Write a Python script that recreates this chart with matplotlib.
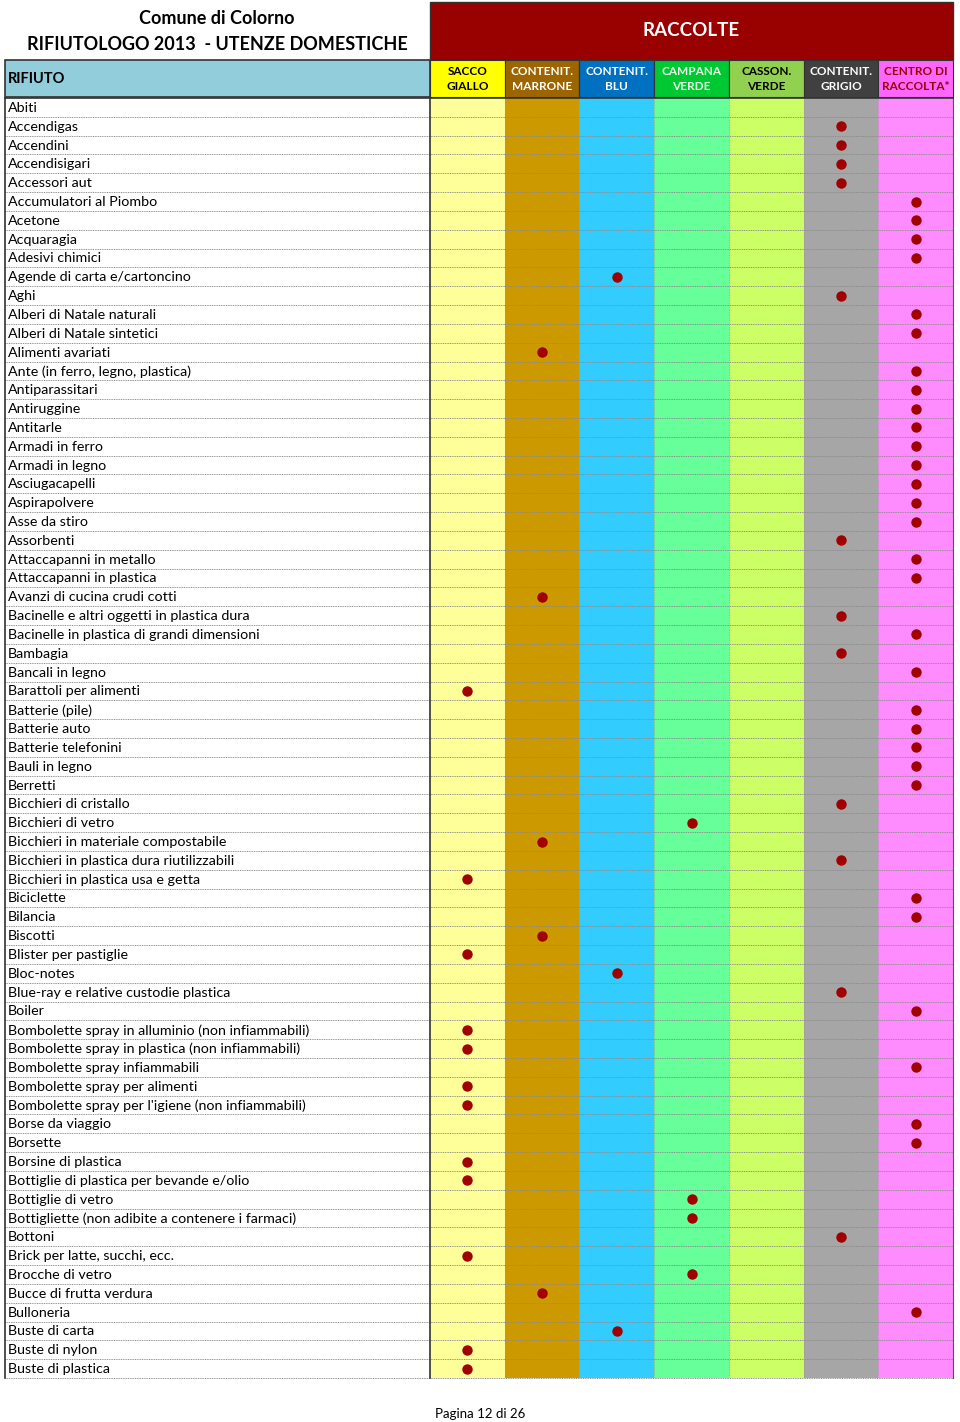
import matplotlib.pyplot as plt
from matplotlib.patches import Rectangle

plt.rcParams['font.family'] = ['Lato', 'DejaVu Sans']

# Column headers (collection bins)
bins = ["SACCO\nGIALLO", "CONTENIT.\nMARRONE", "CONTENIT.\nBLU", "CAMPANA\nVERDE",
        "CASSON.\nVERDE", "CONTENIT.\nGRIGIO", "CENTRO DI\nRACCOLTA*"]
head_colors = ["#FFFF00", "#9C6500", "#0070C0", "#00C832", "#92D050", "#404040", "#FF66FF"]
head_text = ["black", "white", "white", "#E8FFE8", "black", "white", "#990000"]
body_colors = ["#FFFF99", "#CC9900", "#33CCFF", "#66FF99", "#CCFF66", "#A6A6A6", "#FF8CFF"]

# Waste items and the bin each goes in (index into bins, None = no mark)
rifiuti = [
    "Abiti", "Accendigas", "Accendini", "Accendisigari", "Accessori aut",
    "Accumulatori al Piombo", "Acetone", "Acquaragia", "Adesivi chimici",
    "Agende di carta e/cartoncino", "Aghi", "Alberi di Natale naturali",
    "Alberi di Natale sintetici", "Alimenti avariati", "Ante (in ferro, legno, plastica)",
    "Antiparassitari", "Antiruggine", "Antitarle", "Armadi in ferro", "Armadi in legno",
    "Asciugacapelli", "Aspirapolvere", "Asse da stiro", "Assorbenti",
    "Attaccapanni in metallo", "Attaccapanni in plastica", "Avanzi di cucina crudi cotti",
    "Bacinelle e altri oggetti in plastica dura", "Bacinelle in plastica di grandi dimensioni",
    "Bambagia", "Bancali in legno", "Barattoli per alimenti", "Batterie (pile)",
    "Batterie auto", "Batterie telefonini", "Bauli in legno", "Berretti",
    "Bicchieri di cristallo", "Bicchieri di vetro", "Bicchieri in materiale compostabile",
    "Bicchieri in plastica dura riutilizzabili", "Bicchieri in plastica usa e getta",
    "Biciclette", "Bilancia", "Biscotti", "Blister per pastiglie", "Bloc-notes",
    "Blue-ray e relative custodie plastica", "Boiler",
    "Bombolette spray in alluminio (non infiammabili)",
    "Bombolette spray in plastica (non infiammabili)", "Bombolette spray infiammabili",
    "Bombolette spray per alimenti", "Bombolette spray per l'igiene (non infiammabili)",
    "Borse da viaggio", "Borsette", "Borsine di plastica",
    "Bottiglie di plastica per bevande e/olio", "Bottiglie di vetro",
    "Bottigliette (non adibite a contenere i farmaci)", "Bottoni",
    "Brick per latte, succhi, ecc.", "Brocche di vetro", "Bucce di frutta verdura",
    "Bulloneria", "Buste di carta", "Buste di nylon", "Buste di plastica",
]
raccolta = [
    None, 5, 5, 5, 5,
    6, 6, 6, 6,
    2, 5, 6,
    6, 1, 6,
    6, 6, 6, 6, 6,
    6, 6, 6, 5,
    6, 6, 1,
    5, 6,
    5, 6, 0, 6,
    6, 6, 6, 6,
    5, 3, 1,
    5, 0,
    6, 6, 1, 0, 2,
    5, 6,
    0,
    0, 6,
    0, 0,
    6, 6, 0,
    0, 3,
    3, 5,
    0, 3, 1,
    6, 2, 0, 0,
]

W, H = 960, 1422
fig = plt.figure(figsize=(W / 100, H / 100), dpi=100)
ax = fig.add_axes([0, 0, 1, 1])
ax.set_xlim(0, W)
ax.set_ylim(H, 0)
ax.axis('off')

x0, xs, x1 = 5, 430, 953
col_w = (x1 - xs) / len(bins)
body_top, body_bot = 98, 1378
row_h = (body_bot - body_top) / len(rifiuti)

# title
ax.text(217, 18, "Comune di Colorno", ha='center', va='center', fontsize=13, fontweight='bold')
ax.text(217, 45, "RIFIUTOLOGO 2013  - UTENZE DOMESTICHE", ha='center', va='center',
        fontsize=13, fontweight='bold')

# RACCOLTE band
ax.add_patch(Rectangle((xs, 2), x1 - xs, 58, facecolor="#990000", edgecolor="#333333", lw=1))
ax.text((xs + x1) / 2, 31, "RACCOLTE", ha='center', va='center', color='white',
        fontsize=13.5, fontweight='bold')

# RIFIUTO header
ax.add_patch(Rectangle((x0, 60), xs - x0, 37, facecolor="#92CDDC", edgecolor="#333333", lw=1.2))
ax.text(x0 + 3, 79, "RIFIUTO", ha='left', va='center', fontsize=10.5, fontweight='bold')

# bin headers and body columns
for i, lab in enumerate(bins):
    cx = xs + i * col_w
    ax.add_patch(Rectangle((cx, 60), col_w, 37, facecolor=head_colors[i], edgecolor="#333333", lw=0.8))
    ax.text(cx + col_w / 2, 79, lab, ha='center', va='center', color=head_text[i],
            fontsize=8.5, fontweight='bold', linespacing=1.5)
    ax.add_patch(Rectangle((cx, body_top), col_w, body_bot - body_top,
                           facecolor=body_colors[i], edgecolor='none'))
    if i > 0:
        ax.plot([cx, cx], [body_top, body_bot], color="#999999", lw=0.6, ls=(0, (1, 1)))

# rows
for r, name in enumerate(rifiuti):
    yc = body_top + (r + 0.5) * row_h
    ax.text(x0 + 3, yc + 0.5, name, ha='left', va='center', fontsize=10.3)
    yb = body_top + (r + 1) * row_h
    ax.plot([x0, x1], [yb, yb], color="#8C8C8C", lw=0.7, ls=(0, (1, 0.8)))
    if raccolta[r] is not None:
        ax.plot(xs + (raccolta[r] + 0.5) * col_w, yc, 'o', color="#A00000", ms=7.5, mec='none')

# frame lines
ax.plot([x0, x0], [body_top, body_bot], color="#333333", lw=1.2)
ax.plot([xs, xs], [body_top, body_bot], color="#333333", lw=1.2)
ax.plot([x1, x1], [body_top, body_bot], color="#555555", lw=0.8)
ax.plot([x0, x1], [body_top, body_top], color="#333333", lw=1.2)

ax.text(480, 1414, "Pagina 12 di 26", ha='center', va='center', fontsize=9.5)

fig.savefig("out.png", dpi=100)
